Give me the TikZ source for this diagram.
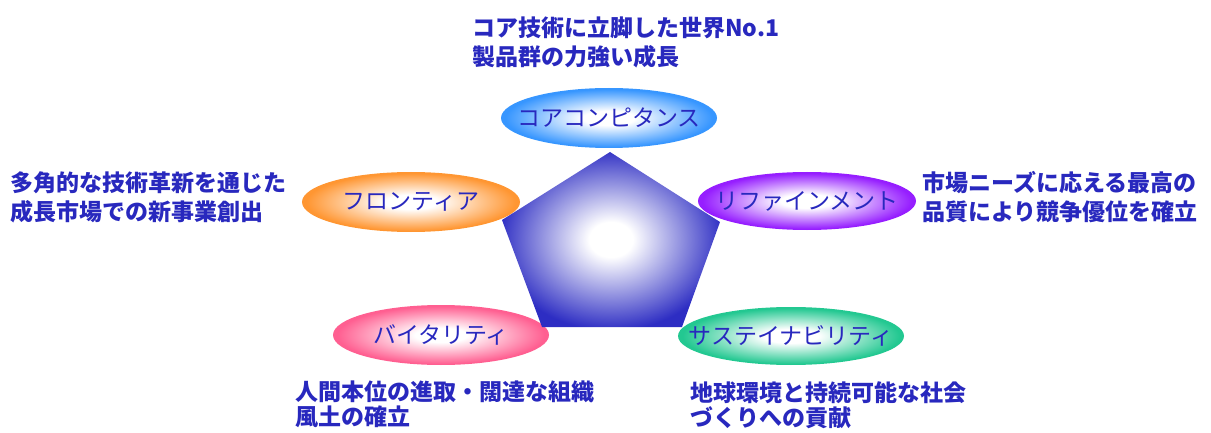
\documentclass[tikz,border=0pt]{standalone}
\usepackage{fontspec}
\newfontfamily\jp{Noto Sans CJK JP}
\definecolor{tblue}{RGB}{40,40,190}
\definecolor{cblue}{RGB}{55,150,255}
\definecolor{corange}{RGB}{255,150,50}
\definecolor{cpurple}{RGB}{150,30,255}
\definecolor{cpink}{RGB}{255,95,145}
\definecolor{cgreen}{RGB}{35,200,145}
\definecolor{cpent}{RGB}{45,45,195}
\pgfdeclareradialshading{glowblue}{\pgfpoint{0bp}{0bp}}{color(0bp)=(white); color(6bp)=(white); color(24bp)=(cblue); color(50bp)=(cblue)}
\pgfdeclareradialshading{gloworange}{\pgfpoint{0bp}{0bp}}{color(0bp)=(white); color(6bp)=(white); color(24bp)=(corange); color(50bp)=(corange)}
\pgfdeclareradialshading{glowpurple}{\pgfpoint{0bp}{0bp}}{color(0bp)=(white); color(6bp)=(white); color(24bp)=(cpurple); color(50bp)=(cpurple)}
\pgfdeclareradialshading{glowpink}{\pgfpoint{0bp}{0bp}}{color(0bp)=(white); color(6bp)=(white); color(24bp)=(cpink); color(50bp)=(cpink)}
\pgfdeclareradialshading{glowgreen}{\pgfpoint{0bp}{0bp}}{color(0bp)=(white); color(6bp)=(white); color(24bp)=(cgreen); color(50bp)=(cgreen)}
\pgfdeclareradialshading{glowpent}{\pgfpoint{0bp}{0bp}}{color(0bp)=(white); color(5bp)=(white); color(26bp)=(cpent); color(50bp)=(cpent)}
\tikzset{
  lbl/.style={inner sep=0pt, text=tblue, font=\jp\fontsize{23}{23}\selectfont},
  desc/.style={anchor=north west, align=left, inner sep=0pt, text=tblue,
    font=\jp\bfseries\fontsize{23}{29}\selectfont},
  descb/.style={desc, font=\jp\bfseries\fontsize{23}{25}\selectfont}
}
\begin{document}
\begin{tikzpicture}[x=1pt,y=-1pt]
\useasboundingbox (0,0) rectangle (1211,433);
% ellipse centres
\coordinate (corec) at (609,118);
\coordinate (frontc) at (411,202);
\coordinate (refinec) at (807,201);
\coordinate (vitalc) at (441,335);
\coordinate (sustainc) at (791,336);
% ellipses
\shade[shading=glowblue] (corec) ellipse [x radius=108, y radius=30];
\shade[shading=gloworange] (frontc) ellipse [x radius=109, y radius=30];
\shade[shading=glowpurple] (refinec) ellipse [x radius=109, y radius=29];
\shade[shading=glowpink] (vitalc) ellipse [x radius=108, y radius=30];
\shade[shading=glowgreen] (sustainc) ellipse [x radius=113, y radius=29];
% pentagon
\shade[shading=glowpent] (610,152) -- (720,222) -- (682,327) -- (542,327) -- (502,220) -- cycle;
% ellipse labels
\node[lbl] (core) at (corec) {コアコンピタンス};
\node[lbl] (front) at (frontc) {フロンティア};
\node[lbl] (refine) at (refinec) {リファインメント};
\node[lbl] (vital) at (vitalc) {バイタリティ};
\node[lbl] (sustain) at (sustainc) {サステイナビリティ};
% descriptions
\node[desc] (dtop) at (472,17) {コア技術に立脚した世界No.1\\製品群の力強い成長};
\node[desc] (dleft) at (10,171) {多角的な技術革新を通じた\\成長市場での新事業創出};
\node[desc] (dright) at (922,171) {市場ニーズに応える最高の\\品質により競争優位を確立};
\node[descb] (dbl) at (295,381) {人間本位の進取・闊達な組織\\風土の確立};
\node[descb] (dbr) at (690,381) {地球環境と持続可能な社会\\づくりへの貢献};
\end{tikzpicture}
\end{document}
